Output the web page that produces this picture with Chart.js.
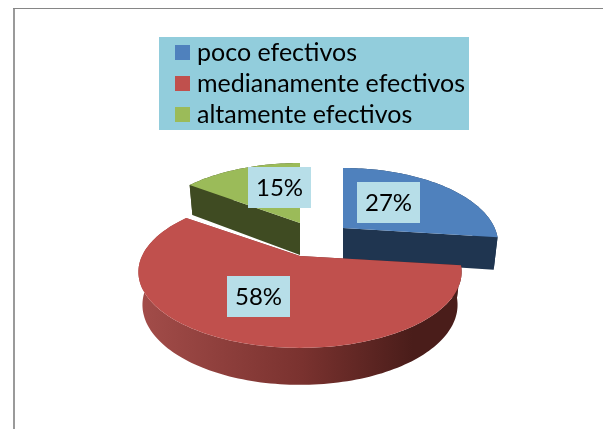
<!DOCTYPE html>
<html>
<head>
<meta charset="utf-8">
<script src="https://cdn.jsdelivr.net/npm/chart.js@4"></script>
<style>
html, body { margin: 0; padding: 0; background: #fff; }
#wrap { width: 603px; height: 429px; }
</style>
</head>
<body>
<div id="wrap"><canvas id="pieChart" width="603" height="429"></canvas></div>
<script>
const categories = ['poco efectivos', 'medianamente efectivos', 'altamente efectivos'];
const percentValues = [27, 58, 15];
const percentLabels = ['27%', '58%', '15%'];

const topColors = ['#4f81bd', '#c0504d', '#9bbb59'];
const wallColors = ['#1f3550', null, '#3f4b22'];

// where the pie tip sits and how each slice is pulled out of it
const tipX = 300, tipY = 256;
const sliceShift = [[43, -28, 0.96], [0, 0, 1], [0, -33, 0.97]];
const labelCenter = [[388.5, 202.5], [258.5, 296.5], [279.5, 187.5]];
const legendBox = { left: 159, top: 37, width: 310, height: 93 };

// flat pie -> tilted view with perspective
function project(theta, r, i) {
    const u = Math.sin(theta) * r, v = Math.cos(theta) * r;
    const w = 1 + 0.21 * v;
    const s = sliceShift[i];
    return { x: tipX + s[0] + s[2] * 158 * u / w, y: tipY + s[1] - 72.6 * v / w };
}

function lower(p, i) {
    const s = sliceShift[i];
    const ax = tipX + s[0], ay = tipY + s[1];
    return { x: ax + (p.x - ax) * 0.975, y: p.y + 32 + (p.y - ay) * 0.054 };
}

function arcPoints(a0, a1, i) {
    const pts = [];
    const n = Math.max(4, Math.ceil((a1 - a0) * 40));
    for (let k = 0; k <= n; k++) pts.push(project(a0 + (a1 - a0) * k / n, 1, i));
    return pts;
}

function fillPoly(ctx, pts, color) {
    ctx.beginPath();
    pts.forEach((p, k) => k ? ctx.lineTo(p.x, p.y) : ctx.moveTo(p.x, p.y));
    ctx.closePath();
    ctx.fillStyle = color;
    ctx.fill();
}

const pie3d = {
    id: 'pie3d',
    beforeDraw(chart) {
        const c = chart.ctx;
        c.fillStyle = '#fff';
        c.fillRect(0, 0, 603, 429);
        c.fillStyle = '#9a9a9a';
        c.fillRect(13, 8, 2, 421);
        c.fillStyle = '#868686';
        c.fillRect(13, 8, 590, 1);
    },
    beforeDatasetsDraw(chart) {
        const c = chart.ctx;
        const arcs = chart.getDatasetMeta(0).data;
        // back slices first, red one last because it is in front
        [2, 0, 1].forEach(i => {
            const a0 = arcs[i].startAngle + Math.PI / 2;
            const a1 = arcs[i].endAngle + Math.PI / 2;
            const rim = arcPoints(a0, a1, i);
            const tip = project(0, 0, i);
            const top = [tip].concat(rim);
            const bottom = top.map(p => lower(p, i));

            let wall = wallColors[i];
            if (!wall) {
                wall = c.createLinearGradient(143, 0, 460, 0);
                wall.addColorStop(0, '#a24c49');
                wall.addColorStop(0.5, '#7a322f');
                wall.addColorStop(0.85, '#4a1d1a');
                wall.addColorStop(1, '#4a1d1a');
            }
            fillPoly(c, rim.concat(bottom.slice(1).reverse()), wall);
            fillPoly(c, [tip, rim[0], bottom[1], bottom[0]], wall);
            fillPoly(c, [tip, rim[rim.length - 1], bottom[bottom.length - 1], bottom[0]], wall);
            fillPoly(c, top, topColors[i]);
        });
        return false;
    },
    afterDraw(chart) {
        const c = chart.ctx;
        // legend panel
        c.fillStyle = '#92cddc';
        c.fillRect(legendBox.left, legendBox.top, legendBox.width, legendBox.height);
        c.font = '25px Lato';
        c.textAlign = 'left';
        c.textBaseline = 'alphabetic';
        categories.forEach((name, i) => {
            c.fillStyle = topColors[i];
            c.fillRect(175, 45 + i * 31, 15, 15);
            c.fillStyle = '#000';
            c.fillText(name, 197, 61 + i * 31);
        });
        // percent boxes
        c.font = '24px Lato';
        c.textAlign = 'center';
        c.textBaseline = 'middle';
        percentLabels.forEach((txt, i) => {
            const p = labelCenter[i];
            c.fillStyle = '#b7dee8';
            c.fillRect(p[0] - 31.5, p[1] - 20.5, 63, 41);
            c.fillStyle = '#000';
            c.fillText(txt, p[0], p[1] + 1);
        });
    }
};

new Chart(document.getElementById('pieChart'), {
    type: 'pie',
    data: {
        labels: categories,
        datasets: [{ data: percentValues, backgroundColor: topColors, borderWidth: 0 }]
    },
    options: {
        responsive: false,
        animation: false,
        plugins: {
            legend: { display: false },
            tooltip: { enabled: false }
        }
    },
    plugins: [pie3d]
});
</script>
</body>
</html>
